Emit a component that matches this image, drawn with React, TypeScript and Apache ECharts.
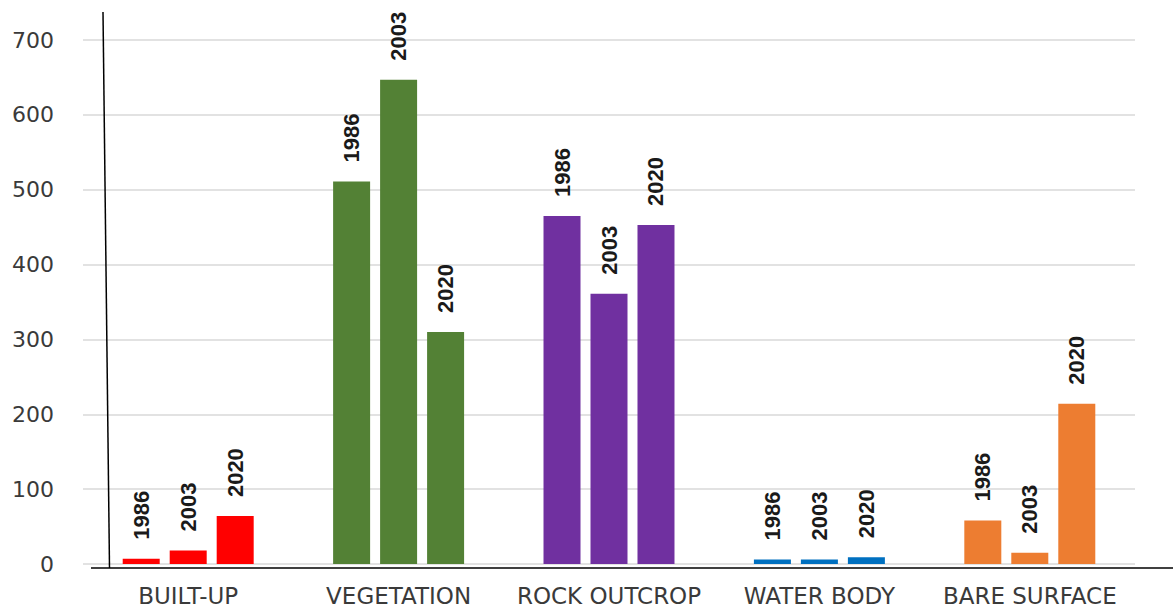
import React, { useEffect, useRef } from "react";
import * as echarts from "echarts";

const categories = ["BUILT-UP", "VEGETATION", "ROCK OUTCROP", "WATER BODY", "BARE SURFACE"];
const categoryColors = ["#FF0000", "#538135", "#7030A0", "#0070C0", "#ED7D31"];
const years = ["1986", "2003", "2020"];
const values1986 = [7, 511, 465, 6, 58];
const values2003 = [18, 647, 361, 6, 15];
const values2020 = [64, 310, 453, 9, 214];
const yTicks = [0, 100, 200, 300, 400, 500, 600, 700];

export default function App() {
  const ref = useRef<HTMLDivElement>(null);
  useEffect(() => {
    if (!ref.current) return;
    const chart = echarts.init(ref.current, undefined, { renderer: "svg" });
    const seriesValues = [values1986, values2003, values2020];
    const series = years.map((y, si) => ({
      name: y,
      type: "bar",
      barWidth: 37,
      barGap: "27%",
      data: seriesValues[si].map((v, i) => ({
        value: v,
        itemStyle: { color: categoryColors[i] },
      })),
      label: {
        show: true,
        position: "top",
        distance: 19,
        rotate: 90,
        align: "left",
        verticalAlign: "middle",
        formatter: "{a}",
        fontFamily: "Liberation Sans, Arial, sans-serif",
        fontWeight: "bold",
        fontSize: 22,
        color: "#1a1a1a",
      },
    }));
    chart.setOption({
      animation: false,
      backgroundColor: "#ffffff",
      grid: { left: 83, right: 38, top: 40, bottom: 46, containLabel: false },
      xAxis: {
        type: "category",
        data: categories,
        axisLine: { show: false },
        axisTick: { show: false },
        axisLabel: {
          interval: 0,
          margin: 20,
          fontFamily: "DejaVu Sans, Verdana, sans-serif",
          fontSize: 23,
          color: "#3a3a3a",
        },
      },
      yAxis: {
        type: "value",
        min: yTicks[0],
        max: yTicks[yTicks.length - 1],
        interval: 100,
        axisLine: { show: false },
        axisTick: { show: false },
        splitLine: { lineStyle: { color: "#d9d9d9", width: 1.5 } },
        axisLabel: {
          margin: 29,
          fontFamily: "DejaVu Sans, Verdana, sans-serif",
          fontSize: 22,
          color: "#3a3a3a",
        },
      },
      series,
      graphic: [
        {
          type: "line",
          shape: { x1: 91, y1: 568, x2: 1173, y2: 568 },
          style: { stroke: "#000000", lineWidth: 1.5 },
          z: 100,
        },
        {
          type: "line",
          shape: { x1: 103, y1: 12, x2: 109.5, y2: 568 },
          style: { stroke: "#000000", lineWidth: 1.5 },
          z: 100,
        },
      ],
    });
    return () => chart.dispose();
  }, []);
  return (
    <div
      ref={ref}
      style={{ position: "absolute", left: 0, top: 0, width: 1173, height: 610 }}
    />
  );
}
